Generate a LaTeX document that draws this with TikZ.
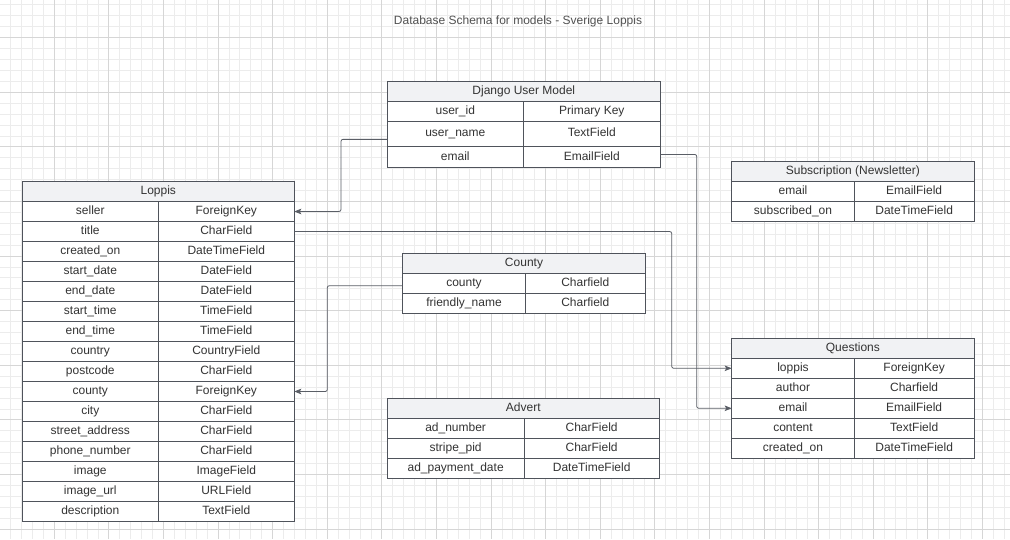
\documentclass[tikz,border=0pt]{standalone}
\usepackage{fontspec}
\setmainfont{Liberation Sans}
\usepackage{xcolor}
\usepackage{tikz}
\usetikzlibrary{arrows.meta,positioning,calc}

\definecolor{gridminor}{HTML}{ECECEC}
\definecolor{gridmajor}{HTML}{D6D6D6}
\definecolor{tbl}{HTML}{4F535B}
\definecolor{hdrfill}{HTML}{F1F2F4}
\definecolor{txt}{HTML}{333333}
\definecolor{wire}{HTML}{5A5E66}

\begin{document}
\begin{tikzpicture}[
  x=1pt, y=-1pt,
  every node/.style={font=\fontsize{12pt}{14pt}\selectfont, text=txt, inner sep=0pt, outer sep=0pt},
  hdr/.style={draw=tbl, fill=hdrfill, line width=0.8pt, minimum height=20pt, text height=9pt, text depth=3pt},
  cell/.style={draw=tbl, fill=white, line width=0.8pt, minimum height=20pt, text height=9pt, text depth=3pt},
  fld/.style={cell, minimum width=#1},
  typ/.style={cell, minimum width=#1},
  gminor/.style={draw=gridminor, line width=0.9pt},
  gmajor/.style={draw=gridmajor, line width=0.9pt},
  fk/.style={-{Stealth[length=7pt,width=5.5pt,inset=1.5pt]}, draw=wire, line width=0.8pt, rounded corners=2pt}
]
\fill[white] (0,0) rectangle (1010,539);
\useasboundingbox (0,0) rectangle (1010,539);

% background grid
\foreach \i in {0,...,93} \draw[gminor] ({-0.3+10.92*\i},0) -- ++(0,539);
\foreach \j in {0,...,51} \draw[gminor] (0,{-16.9+10.92*\j}) -- ++(1010,0);
\foreach \i in {0,...,18} \draw[gmajor] ({-0.3+54.6*\i},0) -- ++(0,539);
\foreach \j in {0,...,10} \draw[gmajor] (0,{-16.9+54.6*\j}) -- ++(1010,0);

\node[text=txt!85] (title) at (518,21) {Database Schema for models - Sverige Loppis};

% Django User Model
\node[hdr, minimum width=273pt] (django) at (523.8,91) {Django User Model};
\node[fld=136pt, below right=0pt and 0pt of django.south west] (dj-uid) {user\_id};
\node[typ=137pt, right=0pt of dj-uid] (dj-uid-t) {Primary Key};
\node[fld=136pt, below=0pt of dj-uid, minimum height=25.7pt] (dj-uname) {user\_name};
\node[typ=137pt, right=0pt of dj-uname, minimum height=25.7pt] (dj-uname-t) {TextField};
\node[fld=136pt, below=0pt of dj-uname, minimum height=20.6pt] (dj-email) {email};
\node[typ=137pt, right=0pt of dj-email, minimum height=20.6pt] (dj-email-t) {EmailField};

% Loppis
\node[hdr, minimum width=272pt] (loppis) at (158.3,191.5) {Loppis};
\node[fld=136pt, below right=0pt and 0pt of loppis.south west] (lp-seller) {seller};
\node[typ=136pt, right=0pt of lp-seller] (lp-seller-t) {ForeignKey};
\node[fld=136pt, below=0pt of lp-seller] (lp-title) {title};
\node[typ=136pt, right=0pt of lp-title] (lp-title-t) {CharField};
\node[fld=136pt, below=0pt of lp-title] (lp-created) {created\_on};
\node[typ=136pt, right=0pt of lp-created] (lp-created-t) {DateTimeField};
\node[fld=136pt, below=0pt of lp-created] (lp-sdate) {start\_date};
\node[typ=136pt, right=0pt of lp-sdate] (lp-sdate-t) {DateField};
\node[fld=136pt, below=0pt of lp-sdate] (lp-edate) {end\_date};
\node[typ=136pt, right=0pt of lp-edate] (lp-edate-t) {DateField};
\node[fld=136pt, below=0pt of lp-edate] (lp-stime) {start\_time};
\node[typ=136pt, right=0pt of lp-stime] (lp-stime-t) {TimeField};
\node[fld=136pt, below=0pt of lp-stime] (lp-etime) {end\_time};
\node[typ=136pt, right=0pt of lp-etime] (lp-etime-t) {TimeField};
\node[fld=136pt, below=0pt of lp-etime] (lp-country) {country};
\node[typ=136pt, right=0pt of lp-country] (lp-country-t) {CountryField};
\node[fld=136pt, below=0pt of lp-country] (lp-post) {postcode};
\node[typ=136pt, right=0pt of lp-post] (lp-post-t) {CharField};
\node[fld=136pt, below=0pt of lp-post] (lp-county) {county};
\node[typ=136pt, right=0pt of lp-county] (lp-county-t) {ForeignKey};
\node[fld=136pt, below=0pt of lp-county] (lp-city) {city};
\node[typ=136pt, right=0pt of lp-city] (lp-city-t) {CharField};
\node[fld=136pt, below=0pt of lp-city] (lp-street) {street\_address};
\node[typ=136pt, right=0pt of lp-street] (lp-street-t) {CharField};
\node[fld=136pt, below=0pt of lp-street] (lp-phone) {phone\_number};
\node[typ=136pt, right=0pt of lp-phone] (lp-phone-t) {CharField};
\node[fld=136pt, below=0pt of lp-phone] (lp-image) {image};
\node[typ=136pt, right=0pt of lp-image] (lp-image-t) {ImageField};
\node[fld=136pt, below=0pt of lp-image] (lp-url) {image\_url};
\node[typ=136pt, right=0pt of lp-url] (lp-url-t) {URLField};
\node[fld=136pt, below=0pt of lp-url] (lp-desc) {description};
\node[typ=136pt, right=0pt of lp-desc] (lp-desc-t) {TextField};

% County
\node[hdr, minimum width=242.6pt] (county) at (524,263.3) {County};
\node[fld=122.6pt, below right=0pt and 0pt of county.south west] (co-county) {county};
\node[typ=120pt, right=0pt of co-county] (co-county-t) {Charfield};
\node[fld=122.6pt, below=0pt of co-county] (co-fname) {friendly\_name};
\node[typ=120pt, right=0pt of co-fname] (co-fname-t) {Charfield};

% Advert
\node[hdr, minimum width=272pt] (advert) at (523.3,408.3) {Advert};
\node[fld=136.7pt, below right=0pt and 0pt of advert.south west] (ad-num) {ad\_number};
\node[typ=135.3pt, right=0pt of ad-num] (ad-num-t) {CharField};
\node[fld=136.7pt, below=0pt of ad-num] (ad-pid) {stripe\_pid};
\node[typ=135.3pt, right=0pt of ad-pid] (ad-pid-t) {CharField};
\node[fld=136.7pt, below=0pt of ad-pid] (ad-pay) {ad\_payment\_date};
\node[typ=135.3pt, right=0pt of ad-pay] (ad-pay-t) {DateTimeField};

% Subscription
\node[hdr, minimum width=242.3pt] (subs) at (852.85,171.7) {Subscription (Newsletter)};
\node[fld=122.6pt, below right=0pt and 0pt of subs.south west] (su-email) {email};
\node[typ=119.7pt, right=0pt of su-email] (su-email-t) {EmailField};
\node[fld=122.6pt, below=0pt of su-email] (su-on) {subscribed\_on};
\node[typ=119.7pt, right=0pt of su-on] (su-on-t) {DateTimeField};

% Questions
\node[hdr, minimum width=242.3pt] (questions) at (852.85,348.3) {Questions};
\node[fld=122.6pt, below right=0pt and 0pt of questions.south west] (qu-loppis) {loppis};
\node[typ=119.7pt, right=0pt of qu-loppis] (qu-loppis-t) {ForeignKey};
\node[fld=122.6pt, below=0pt of qu-loppis] (qu-author) {author};
\node[typ=119.7pt, right=0pt of qu-author] (qu-author-t) {Charfield};
\node[fld=122.6pt, below=0pt of qu-author] (qu-email) {email};
\node[typ=119.7pt, right=0pt of qu-email] (qu-email-t) {EmailField};
\node[fld=122.6pt, below=0pt of qu-email] (qu-content) {content};
\node[typ=119.7pt, right=0pt of qu-content] (qu-content-t) {TextField};
\node[fld=122.6pt, below=0pt of qu-content] (qu-created) {created\_on};
\node[typ=119.7pt, right=0pt of qu-created] (qu-created-t) {DateTimeField};

% relations
\draw[fk] ([yshift=-5.5pt]dj-uname.west) -- ++(-46.3pt,0) |- (lp-seller-t.east);
\draw[fk] ([yshift=2.6pt]dj-email-t.east) -- ++(36.4pt,0) |- (qu-email.west);
\draw[fk] (lp-title-t.east) -- ++(377.4pt,0) |- (qu-loppis.west);
\draw[fk] ([yshift=-2.4pt]co-county.west) -- ++(-75.4pt,0) |- (lp-county-t.east);
\end{tikzpicture}
\end{document}
